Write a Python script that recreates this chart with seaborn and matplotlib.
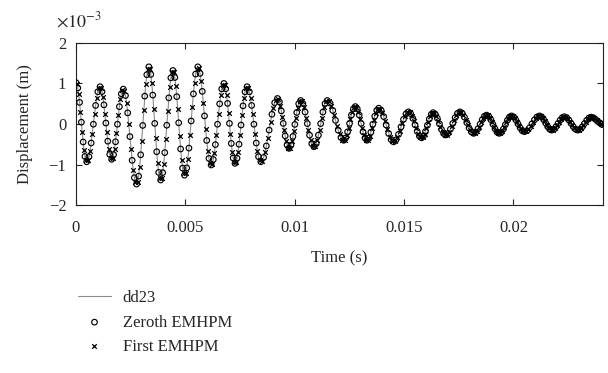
import matplotlib
matplotlib.use("Agg")
import matplotlib.pyplot as plt
import numpy as np
import pandas as pd
import seaborn as sns

# time samples (ms) and displacement (x1e-3 m)
# one row per half swing
t_ms = [
    0.00, 0.041, 0.082, 0.123, 0.163, 0.204, 0.245, 0.286, 0.327, 0.368, 0.408, 0.449,
    0.49, 0.541, 0.592, 0.643, 0.693, 0.744, 0.795, 0.846, 0.897, 0.948, 0.998, 1.049,
    1.10, 1.144, 1.188, 1.233, 1.277, 1.321, 1.365, 1.409, 1.453, 1.498, 1.542, 1.586,
    1.63, 1.674, 1.718, 1.763, 1.807, 1.851, 1.895, 1.939, 1.983, 2.028, 2.072, 2.116,
    2.16, 2.211, 2.262, 2.313, 2.363, 2.414, 2.465, 2.516, 2.567, 2.618, 2.668, 2.719,
    2.77, 2.817, 2.863, 2.91, 2.957, 3.003, 3.05, 3.097, 3.143, 3.19, 3.237, 3.283,
    3.33, 3.375, 3.42, 3.465, 3.51, 3.555, 3.60, 3.645, 3.69, 3.735, 3.78, 3.825,
    3.87, 3.917, 3.963, 4.01, 4.057, 4.103, 4.15, 4.197, 4.243, 4.29, 4.337, 4.383,
    4.43, 4.474, 4.518, 4.563, 4.607, 4.651, 4.695, 4.739, 4.783, 4.828, 4.872, 4.916,
    4.96, 5.011, 5.062, 5.113, 5.163, 5.214, 5.265, 5.316, 5.367, 5.418, 5.468, 5.519,
    5.57, 5.621, 5.672, 5.723, 5.773, 5.824, 5.875, 5.926, 5.977, 6.028, 6.078, 6.129,
    6.18, 6.228, 6.277, 6.325, 6.373, 6.422, 6.47, 6.518, 6.567, 6.615, 6.663, 6.712,
    6.76, 6.803, 6.845, 6.888, 6.93, 6.973, 7.015, 7.058, 7.10, 7.143, 7.185, 7.228,
    7.27, 7.316, 7.362, 7.408, 7.453, 7.499, 7.545, 7.591, 7.637, 7.683, 7.728, 7.774,
    7.82, 7.873, 7.925, 7.978, 8.03, 8.083, 8.135, 8.188, 8.24, 8.293, 8.345, 8.398,
    8.45, 8.513, 8.577, 8.64, 8.703, 8.767, 8.83, 8.893, 8.957, 9.02, 9.083, 9.147,
    9.21, 9.254, 9.298, 9.343, 9.387, 9.431, 9.475, 9.519, 9.563, 9.608, 9.652, 9.696,
    9.74, 9.784, 9.828, 9.873, 9.917, 9.961, 10.005, 10.049, 10.093, 10.138, 10.182, 10.226,
    10.27, 10.321, 10.372, 10.423, 10.473, 10.524, 10.575, 10.626, 10.677, 10.728, 10.778, 10.829,
    10.88, 10.931, 10.982, 11.033, 11.083, 11.134, 11.185, 11.236, 11.287, 11.338, 11.388, 11.439,
    11.49, 11.553, 11.615, 11.678, 11.74, 11.803, 11.865, 11.928, 11.99, 12.053, 12.115, 12.178,
    12.24, 12.284, 12.328, 12.373, 12.417, 12.461, 12.505, 12.549, 12.593, 12.638, 12.682, 12.726,
    12.77, 12.814, 12.858, 12.903, 12.947, 12.991, 13.035, 13.079, 13.123, 13.168, 13.212, 13.256,
    13.30, 13.345, 13.39, 13.435, 13.48, 13.525, 13.57, 13.615, 13.66, 13.705, 13.75, 13.795,
    13.84, 13.897, 13.953, 14.01, 14.067, 14.123, 14.18, 14.237, 14.293, 14.35, 14.407, 14.463,
    14.52, 14.577, 14.633, 14.69, 14.747, 14.803, 14.86, 14.917, 14.973, 15.03, 15.087, 15.143,
    15.20, 15.25, 15.30, 15.35, 15.40, 15.45, 15.50, 15.55, 15.60, 15.65, 15.70, 15.75,
    15.80, 15.844, 15.888, 15.933, 15.977, 16.021, 16.065, 16.109, 16.153, 16.198, 16.242, 16.286,
    16.33, 16.378, 16.425, 16.473, 16.52, 16.568, 16.615, 16.663, 16.71, 16.758, 16.805, 16.853,
    16.90, 16.954, 17.008, 17.063, 17.117, 17.171, 17.225, 17.279, 17.333, 17.388, 17.442, 17.496,
    17.55, 17.603, 17.655, 17.708, 17.76, 17.813, 17.865, 17.918, 17.97, 18.023, 18.075, 18.128,
    18.18, 18.229, 18.278, 18.327, 18.377, 18.426, 18.475, 18.524, 18.573, 18.622, 18.672, 18.721,
    18.77, 18.818, 18.867, 18.915, 18.963, 19.012, 19.06, 19.108, 19.157, 19.205, 19.253, 19.302,
    19.35, 19.397, 19.443, 19.49, 19.537, 19.583, 19.63, 19.677, 19.723, 19.77, 19.817, 19.863,
    19.91, 19.959, 20.008, 20.057, 20.107, 20.156, 20.205, 20.254, 20.303, 20.352, 20.402, 20.451,
    20.50, 20.558, 20.615, 20.673, 20.73, 20.788, 20.845, 20.903, 20.96, 21.018, 21.075, 21.133,
    21.19, 21.237, 21.283, 21.33, 21.377, 21.423, 21.47, 21.517, 21.563, 21.61, 21.657, 21.703,
    21.75, 21.798, 21.847, 21.895, 21.943, 21.992, 22.04, 22.088, 22.137, 22.185, 22.233, 22.282,
    22.33, 22.381, 22.432, 22.483, 22.533, 22.584, 22.635, 22.686, 22.737, 22.788, 22.838, 22.889,
    22.94, 22.991, 23.042, 23.093, 23.143, 23.194, 23.245, 23.296, 23.347, 23.398, 23.448, 23.499,
    23.55, 23.60, 23.65, 23.70, 23.75, 23.80, 23.85, 23.90, 23.95, 24.00, 24.05, 24.10,
]

disp = [
    1.02, 0.987, 0.889, 0.734, 0.533, 0.298, 0.045, -0.208, -0.443, -0.644, -0.799, -0.897,
    -0.93, -0.899, -0.806, -0.659, -0.468, -0.245, -0.005, 0.235, 0.458, 0.649, 0.796, 0.889,
    0.92, 0.890, 0.800, 0.658, 0.473, 0.257, 0.025, -0.207, -0.423, -0.608, -0.750, -0.840,
    -0.87, -0.841, -0.754, -0.617, -0.438, -0.229, -0.005, 0.219, 0.428, 0.607, 0.744, 0.831,
    0.86, 0.82, 0.703, 0.517, 0.275, -0.007, -0.31, -0.613, -0.895, -1.137, -1.323, -1.44,
    -1.48, -1.431, -1.286, -1.057, -0.758, -0.409, -0.035, 0.339, 0.688, 0.987, 1.216, 1.361,
    1.41, 1.363, 1.223, 1.001, 0.713, 0.376, 0.015, -0.346, -0.683, -0.971, -1.193, -1.333,
    -1.38, -1.334, -1.199, -0.984, -0.705, -0.38, -0.03, 0.32, 0.645, 0.924, 1.139, 1.274,
    1.32, 1.276, 1.147, 0.942, 0.675, 0.364, 0.03, -0.304, -0.615, -0.882, -1.087, -1.216,
    -1.26, -1.215, -1.081, -0.869, -0.593, -0.271, 0.075, 0.421, 0.743, 1.019, 1.231, 1.365,
    1.41, 1.369, 1.248, 1.055, 0.805, 0.513, 0.2, -0.113, -0.405, -0.655, -0.848, -0.969,
    -1.01, -0.976, -0.875, -0.716, -0.508, -0.265, -0.005, 0.255, 0.498, 0.706, 0.865, 0.966,
    1.00, 0.967, 0.868, 0.711, 0.508, 0.27, 0.015, -0.24, -0.478, -0.681, -0.838, -0.937,
    -0.97, -0.938, -0.843, -0.693, -0.498, -0.27, -0.025, 0.22, 0.448, 0.643, 0.793, 0.888,
    0.92, 0.889, 0.796, 0.649, 0.458, 0.235, -0.005, -0.245, -0.468, -0.659, -0.806, -0.899,
    -0.93, -0.903, -0.825, -0.701, -0.54, -0.352, -0.15, 0.052, 0.24, 0.401, 0.525, 0.603,
    0.63, 0.609, 0.548, 0.45, 0.323, 0.174, 0.015, -0.144, -0.293, -0.42, -0.518, -0.579,
    -0.60, -0.58, -0.521, -0.427, -0.305, -0.163, -0.01, 0.143, 0.285, 0.407, 0.501, 0.56,
    0.58, 0.561, 0.504, 0.413, 0.295, 0.158, 0.01, -0.138, -0.275, -0.393, -0.484, -0.541,
    -0.56, -0.541, -0.484, -0.393, -0.275, -0.138, 0.01, 0.158, 0.295, 0.413, 0.504, 0.561,
    0.58, 0.563, 0.514, 0.436, 0.335, 0.217, 0.09, -0.037, -0.155, -0.256, -0.334, -0.383,
    -0.40, -0.386, -0.344, -0.278, -0.193, -0.092, 0.015, 0.122, 0.223, 0.308, 0.374, 0.416,
    0.43, 0.416, 0.374, 0.308, 0.223, 0.122, 0.015, -0.092, -0.193, -0.278, -0.344, -0.386,
    -0.40, -0.387, -0.347, -0.284, -0.203, -0.107, -0.005, 0.097, 0.193, 0.274, 0.337, 0.377,
    0.39, 0.376, 0.334, 0.268, 0.183, 0.082, -0.025, -0.132, -0.233, -0.318, -0.384, -0.426,
    -0.44, -0.427, -0.39, -0.332, -0.255, -0.166, -0.07, 0.026, 0.115, 0.192, 0.25, 0.287,
    0.30, 0.289, 0.257, 0.206, 0.14, 0.063, -0.02, -0.103, -0.18, -0.246, -0.297, -0.329,
    -0.34, -0.329, -0.298, -0.249, -0.185, -0.11, -0.03, 0.05, 0.125, 0.189, 0.238, 0.269,
    0.28, 0.271, 0.243, 0.199, 0.143, 0.076, 0.005, -0.066, -0.133, -0.189, -0.233, -0.261,
    -0.27, -0.26, -0.232, -0.186, -0.128, -0.059, 0.015, 0.089, 0.158, 0.216, 0.262, 0.29,
    0.30, 0.291, 0.264, 0.222, 0.168, 0.104, 0.035, -0.034, -0.098, -0.152, -0.194, -0.221,
    -0.23, -0.222, -0.2, -0.164, -0.118, -0.063, -0.005, 0.053, 0.108, 0.154, 0.19, 0.212,
    0.22, 0.212, 0.19, 0.154, 0.108, 0.053, -0.005, -0.063, -0.118, -0.164, -0.2, -0.222,
    -0.23, -0.223, -0.201, -0.167, -0.123, -0.071, -0.015, 0.041, 0.093, 0.137, 0.171, 0.193,
    0.20, 0.193, 0.174, 0.143, 0.103, 0.056, 0.005, -0.046, -0.093, -0.133, -0.164, -0.183,
    -0.19, -0.183, -0.164, -0.133, -0.093, -0.046, 0.005, 0.056, 0.103, 0.143, 0.174, 0.193,
    0.20, 0.194, 0.177, 0.149, 0.113, 0.07, 0.025, -0.02, -0.063, -0.099, -0.127, -0.144,
    -0.15, -0.144, -0.128, -0.102, -0.068, -0.028, 0.015, 0.058, 0.098, 0.132, 0.158, 0.174,
    0.18, 0.174, 0.158, 0.132, 0.098, 0.058, 0.015, -0.028, -0.068, -0.102, -0.128, -0.144,
    -0.15, -0.145, -0.129, -0.103, -0.07, -0.031, 0.01, 0.051, 0.09, 0.123, 0.149, 0.165,
    0.17, 0.165, 0.155, 0.137, 0.115, 0.09, 0.065, 0.045, 0.025, 0.007, -0.01, -0.025,
]

x_ticks = [0, 0.005, 0.01, 0.015, 0.02]
x_tick_labels = ["0", "0.005", "0.01", "0.015", "0.02"]
y_ticks = [-2, -1, 0, 1, 2]

df = pd.DataFrame({"Time": np.array(t_ms) * 1e-3, "Disp": disp})
zeroth = df.iloc[0::2]
first = df.iloc[1::2]

sns.set_style("ticks")
plt.rcParams["font.family"] = ["Liberation Serif", "DejaVu Serif"]
plt.rcParams["mathtext.fontset"] = "stix"
plt.rcParams["font.size"] = 12

fig, ax = plt.subplots(figsize=(6.08, 3.73), dpi=100)
fig.subplots_adjust(left=0.125, right=0.992, top=0.885, bottom=0.450)

sns.lineplot(data=df, x="Time", y="Disp", color="#8a8a8a", linewidth=0.8,
             estimator=None, sort=False, label="dd23", ax=ax)
sns.scatterplot(data=zeroth, x="Time", y="Disp", marker="o", s=16,
                color="none", edgecolor="black", linewidth=0.85,
                label="Zeroth EMHPM", ax=ax, zorder=3)
sns.scatterplot(data=first, x="Time", y="Disp", marker="x", s=11,
                color="black", linewidth=0.9,
                label="First EMHPM", ax=ax, zorder=3)

ax.set_xlim(0, 0.0241)
ax.set_ylim(-2, 2)
ax.set_xticks(x_ticks)
ax.set_xticklabels(x_tick_labels)
ax.set_yticks(y_ticks)
ax.tick_params(direction="in", top=True, right=True, length=4, width=0.8,
               labelsize=12)
ax.tick_params(axis="x", pad=11)
ax.tick_params(axis="y", pad=7)
for s in ax.spines.values():
    s.set_linewidth(0.8)
    s.set_color("#222222")

ax.set_xlabel("Time (s)", fontsize=12, labelpad=10)
ax.set_ylabel("Displacement (m)", fontsize=12)
ax.yaxis.set_label_coords(-0.082, 0.5)
fig.text(0.092, 0.928, r"$\times10^{-3}$", fontsize=13, ha="left", va="baseline")

ax.legend(loc="upper left", bbox_to_anchor=(0.128, 0.222), bbox_transform=fig.transFigure,
          frameon=False, borderpad=0, borderaxespad=0, handlelength=2.0,
          handletextpad=0.7, labelspacing=0.5, fontsize=12)

fig.savefig("out.png", dpi=100)
